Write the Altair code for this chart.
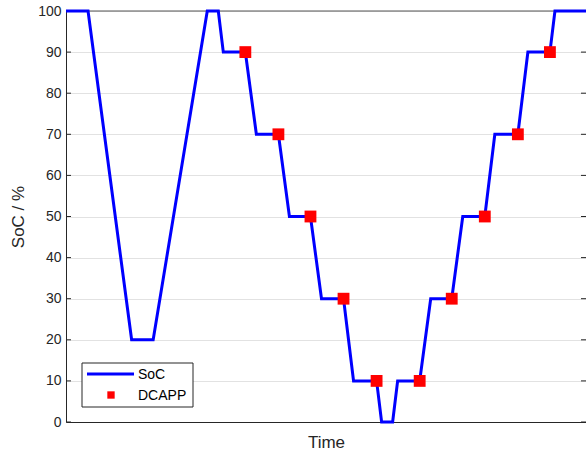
import altair as alt
import pandas as pd

# Data (time in arbitrary units)
time = [0, 22, 65.5, 87, 141, 152, 157, 179, 190, 212, 223, 244, 255, 277, 287, 310,
        315, 326, 331, 353, 364, 385, 396, 418, 428, 451, 461, 483, 488, 519]
soc = [100, 100, 20, 20, 100, 100, 90, 90, 70, 70, 50, 50, 30, 30, 10, 10,
       0, 0, 10, 10, 30, 30, 50, 50, 70, 70, 90, 90, 100, 100]
dcapp_time = [179, 212, 244, 277, 310, 353, 385, 418, 451, 483]
dcapp_soc = [90, 70, 50, 30, 10, 10, 30, 50, 70, 90]
y_ticks = list(range(0, 101, 10))
legend_labels = ["SoC", "DCAPP"]

W, H = 520, 411
FONT = "Liberation Sans"
AX = "#262626"

line_df = pd.DataFrame({"t": time, "soc": soc})
pts_df = pd.DataFrame({"t": dcapp_time, "soc": dcapp_soc})
tick_df = pd.DataFrame({"soc": y_ticks})
one_df = pd.DataFrame({"k": [0]})

xscale = alt.Scale(domain=[0, 519], nice=False, zero=False)
yscale = alt.Scale(domain=[0, 100], nice=False)

x_axis = alt.Axis(
    title="Time", labels=False, ticks=False, grid=False,
    domainColor=AX, domainWidth=1,
    titleFont=FONT, titleFontSize=17, titleFontWeight="normal", titleColor=AX,
    titleX=W / 2, titleY=25, titleBaseline="alphabetic", titleAlign="center")
y_axis = alt.Axis(
    title="SoC / %", values=y_ticks, ticks=False, labelPadding=5,
    labelFont=FONT, labelFontSize=14, labelColor=AX,
    grid=True, gridColor="#e2e2e2", gridWidth=1,
    domainColor=AX, domainWidth=1,
    titleFont=FONT, titleFontSize=17, titleFontWeight="normal", titleColor=AX,
    titleX=-43, titleY=205.5, titleBaseline="alphabetic", titleAlign="center", titleAngle=270)

x_enc = alt.X("t:Q", scale=xscale, axis=x_axis)
y_enc = alt.Y("soc:Q", scale=yscale, axis=y_axis)

left_ticks = alt.Chart(tick_df).mark_rule(color=AX, strokeWidth=1).encode(
    y=y_enc, x=alt.value(0), x2=alt.value(5))
right_ticks = alt.Chart(tick_df).mark_rule(color=AX, strokeWidth=1).encode(
    y=y_enc, x=alt.value(W - 5), x2=alt.value(W))
top_border = alt.Chart(one_df).mark_rule(color="#555555", strokeWidth=1).encode(
    x=alt.value(0), x2=alt.value(W), y=alt.value(0))

line = alt.Chart(line_df).mark_line(color="#0000ff", strokeWidth=3, strokeJoin="miter").encode(
    x=x_enc, y=y_enc)

pts = alt.Chart(pts_df).mark_square(color="#ff0000", size=140, opacity=1).encode(
    x=x_enc, y=y_enc)

# Legend
leg_box = alt.Chart(one_df).mark_rect(fill="white", stroke=AX, strokeWidth=1).encode(
    x=alt.value(16), x2=alt.value(127), y=alt.value(352), y2=alt.value(396))
leg_line = alt.Chart(one_df).mark_rule(color="#0000ff", strokeWidth=3).encode(
    x=alt.value(21), x2=alt.value(68), y=alt.value(363))
leg_sq = alt.Chart(one_df).mark_square(color="#ff0000", size=54, opacity=1).encode(
    x=alt.value(45), y=alt.value(384))
leg_t1 = alt.Chart(one_df).mark_text(font=FONT, fontSize=14, fontWeight="normal", color="black",
                                     align="left", baseline="middle").encode(
    x=alt.value(72), y=alt.value(363.5), text=alt.value(legend_labels[0]))
leg_t2 = alt.Chart(one_df).mark_text(font=FONT, fontSize=14, fontWeight="normal", color="black",
                                     align="left", baseline="middle").encode(
    x=alt.value(72), y=alt.value(384.5), text=alt.value(legend_labels[1]))

chart = alt.layer(
    left_ticks, right_ticks, top_border, line, pts,
    leg_box, leg_line, leg_sq, leg_t1, leg_t2
).properties(
    width=W, height=H,
    autosize="none",
    padding={"left": 66, "top": 11, "right": 0, "bottom": 29},
    background="white",
).configure_view(stroke=None)

chart.save("out.html", embed_options={"renderer": "svg", "actions": False})
